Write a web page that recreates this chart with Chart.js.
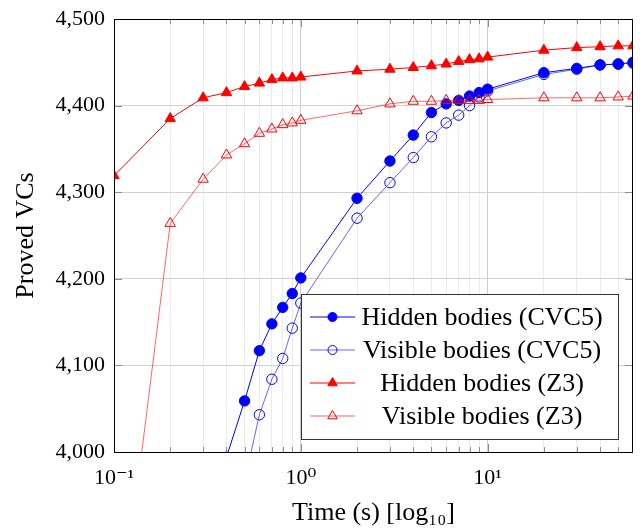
<!DOCTYPE html>
<html>
<head>
<meta charset="utf-8">
<script src="https://cdn.jsdelivr.net/npm/chart.js@4/dist/chart.umd.min.js"></script>
<style>
  body { margin: 0; background: #fff; }
  #wrap { width: 640px; height: 529px; }
</style>
</head>
<body>
<div id="wrap"><canvas id="chart"></canvas></div>
<script>
// time values (s) where each series was measured
var times = [0.1, 0.2, 0.3, 0.4, 0.5, 0.6, 0.7, 0.8, 0.9, 1, 2, 3, 4, 5, 6, 7, 8, 9, 10, 20, 30, 40, 50, 60]

// proved VCs per series (null = not on the plot)
var hiddenCVC5 = [null, null, null, 3994, 4059, 4117, 4148, 4167, 4183, 4201, 4293, 4336, 4366, 4392, 4402, 4406, 4411, 4415, 4419, 4438, 4443, 4447, 4448, 4450]
var visibleCVC5 = [null, null, null, null, 3966, 4043, 4084, 4108, 4143, 4172, 4270, 4311, 4340, 4364, 4380, 4389, 4400, 4410, 4417, 4436, 4442, 4447, 4448, 4449]
var hiddenZ3 = [4319, 4385, 4409, 4415, 4422, 4426, 4430, 4432, 4432, 4433, 4440, 4442, 4444, 4446, 4448, 4451, 4453, 4454, 4456, 4464, 4467, 4468, 4469, 4469]
var visibleZ3 = [3742, 4264, 4315, 4343, 4356, 4368, 4373, 4378, 4380, 4383, 4394, 4402, 4405, 4405, 4406, 4406, 4406, 4406, 4407, 4409, 4409, 4409, 4410, 4411]

// x ticks: every grid line, labels only on the decades
var xGridTicks = [0.1, 0.2, 0.3, 0.4, 0.5, 0.6, 0.7, 0.8, 0.9, 1, 2, 3, 4, 5, 6, 7, 8, 9, 10, 20, 30, 40, 50, 60]
var xMajorTicks = [0.1, 1, 10]
var xMajorLabels = ['10\u207B\u00B9', '10\u2070', '10\u00B9']

var FONT = "'Liberation Serif', 'DejaVu Serif', serif"

function toPoints(ys) {
    var pts = []
    for (let i = 0; i < times.length; i++) {
        pts.push({ x: times[i], y: ys[i] })
    }
    return pts
}

function isMajor(v) {
    return xMajorTicks.some(function (m) { return Math.abs(m - v) < 1e-9 })
}

// frame + inner tick marks (like pgfplots) and the legend box
var framePlugin = {
    id: 'frame',
    afterDatasetsDraw: function (chart) {
        var ctx = chart.ctx
        var a = chart.chartArea
        var xs = chart.scales.x
        var ys = chart.scales.y
        ctx.save()
        ctx.strokeStyle = '#8c8c8c'
        ctx.lineWidth = 1
        ctx.beginPath()
        xGridTicks.forEach(function (v) {
            if (v <= 0.1 || v >= 60) return
            var px = Math.round(xs.getPixelForValue(v)) + 0.5
            var len = isMajor(v) ? 8 : 5
            ctx.moveTo(px, a.bottom); ctx.lineTo(px, a.bottom - len)
            ctx.moveTo(px, a.top); ctx.lineTo(px, a.top + len)
        })
        ys.ticks.forEach(function (t) {
            if (t.value <= 4000 || t.value >= 4500) return
            var py = Math.round(ys.getPixelForValue(t.value)) + 0.5
            ctx.moveTo(a.left, py); ctx.lineTo(a.left + 8, py)
            ctx.moveTo(a.right, py); ctx.lineTo(a.right - 8, py)
        })
        ctx.stroke()
        ctx.strokeStyle = '#000'
        ctx.strokeRect(Math.round(a.left) + 0.5, Math.round(a.top) + 0.5, Math.round(a.right - a.left) - 1, Math.round(a.bottom - a.top))
        ctx.restore()
    },
    afterDraw: function (chart) {
        var ctx = chart.ctx
        var a = chart.chartArea
        var w = 317, h = 145
        var bx = Math.round(a.right - 15 - w)
        var by = Math.round(a.bottom - 13 - h)
        ctx.save()
        ctx.fillStyle = '#fff'
        ctx.fillRect(bx, by, w, h)
        ctx.strokeStyle = '#333'
        ctx.lineWidth = 1
        ctx.strokeRect(bx + 0.5, by + 0.5, w, h)
        chart.data.datasets.forEach(function (ds, i) {
            var cy = by + 23 + i * 33
            var mx = bx + 31.5
            ctx.strokeStyle = ds.borderColor
            ctx.lineWidth = 1.2
            ctx.beginPath()
            ctx.moveTo(bx + 9, cy); ctx.lineTo(bx + 54, cy)
            ctx.stroke()
            ctx.fillStyle = ds.pointBackgroundColor
            ctx.strokeStyle = ds.pointBorderColor
            ctx.lineWidth = 1
            ctx.beginPath()
            if (ds.pointStyle === 'triangle') {
                var r = 5.5
                ctx.moveTo(mx, cy - r)
                ctx.lineTo(mx + r * 0.866, cy + r / 2)
                ctx.lineTo(mx - r * 0.866, cy + r / 2)
                ctx.closePath()
            } else {
                ctx.arc(mx, cy, 4.5, 0, Math.PI * 2)
            }
            ctx.fill()
            ctx.stroke()
            ctx.fillStyle = '#000'
            ctx.font = '26px ' + FONT
            ctx.textAlign = 'center'
            ctx.textBaseline = 'middle'
            ctx.fillText(ds.label, bx + 181, cy + 1)
        })
        ctx.restore()
    }
}

new Chart(document.getElementById('chart'), {
    type: 'line',
    data: {
        datasets: [
            {
                label: 'Hidden bodies (CVC5)',
                data: toPoints(hiddenCVC5),
                borderColor: '#0000ff',
                pointStyle: 'circle',
                pointRadius: 5.2,
                pointBackgroundColor: '#0000ff',
                pointBorderColor: '#0000ff',
                order: 4
            },
            {
                label: 'Visible bodies (CVC5)',
                data: toPoints(visibleCVC5),
                borderColor: 'rgba(0,0,255,0.6)',
                pointStyle: 'circle',
                pointRadius: 5.2,
                pointBackgroundColor: 'rgba(0,0,0,0)',
                pointBorderColor: '#0000ff',
                order: 3
            },
            {
                label: 'Hidden bodies (Z3)',
                data: toPoints(hiddenZ3),
                borderColor: '#ff0000',
                pointStyle: 'triangle',
                pointRadius: 6,
                pointBackgroundColor: '#ff0000',
                pointBorderColor: '#ff0000',
                order: 2
            },
            {
                label: 'Visible bodies (Z3)',
                data: toPoints(visibleZ3),
                borderColor: 'rgba(255,0,0,0.6)',
                pointStyle: 'triangle',
                pointRadius: 6,
                pointBackgroundColor: 'rgba(0,0,0,0)',
                pointBorderColor: '#ff0000',
                order: 1
            }
        ]
    },
    options: {
        responsive: true,
        maintainAspectRatio: false,
        animation: false,
        layout: { padding: { top: 19, right: 5, left: 0, bottom: 0 } },
        elements: {
            line: { borderWidth: 1, tension: 0 },
            point: { borderWidth: 1, hoverRadius: 5 }
        },
        plugins: {
            legend: { display: false },
            tooltip: { enabled: false }
        },
        scales: {
            x: {
                type: 'logarithmic',
                min: 0.1,
                max: 60,
                afterBuildTicks: function (scale) {
                    scale.ticks = xGridTicks.map(function (v) { return { value: v } })
                },
                afterFit: function (scale) {
                    scale.height = 77
                    scale.paddingLeft = 0
                    scale.paddingRight = 0
                },
                border: { display: false },
                grid: {
                    drawTicks: false,
                    color: function (c) {
                        var v = c.tick ? c.tick.value : 0
                        if (v <= 0.1 || v >= 60) return 'rgba(0,0,0,0)'
                        return isMajor(v) ? '#cdcdcd' : '#ebebeb'
                    }
                },
                ticks: {
                    autoSkip: false,
                    maxRotation: 0,
                    padding: 13,
                    color: '#000',
                    font: { family: FONT, size: 22 },
                    callback: function (v) {
                        var k = xMajorTicks.findIndex(function (m) { return Math.abs(m - v) < 1e-9 })
                        return k >= 0 ? xMajorLabels[k] : ''
                    }
                },
                title: {
                    display: true,
                    text: 'Time (s) [log\u2081\u2080]',
                    color: '#000',
                    font: { family: FONT, size: 26 },
                    padding: { top: 0, bottom: 0 }
                }
            },
            y: {
                min: 4000,
                max: 4500,
                afterFit: function (scale) {
                    scale.width = 114
                    scale.paddingTop = 0
                    scale.paddingBottom = 0
                },
                border: { display: false },
                grid: {
                    drawTicks: false,
                    color: function (c) {
                        var v = c.tick ? c.tick.value : 0
                        if (v <= 4000 || v >= 4500) return 'rgba(0,0,0,0)'
                        return '#d2d2d2'
                    }
                },
                ticks: {
                    stepSize: 100,
                    padding: 9,
                    color: '#000',
                    font: { family: FONT, size: 22 },
                    callback: function (v) { return v.toLocaleString('en-US') }
                },
                title: {
                    display: true,
                    text: 'Proved VCs',
                    color: '#000',
                    font: { family: FONT, size: 26 },
                    padding: { top: 11, bottom: 0 }
                }
            }
        }
    },
    plugins: [framePlugin]
});
</script>
</body>
</html>
